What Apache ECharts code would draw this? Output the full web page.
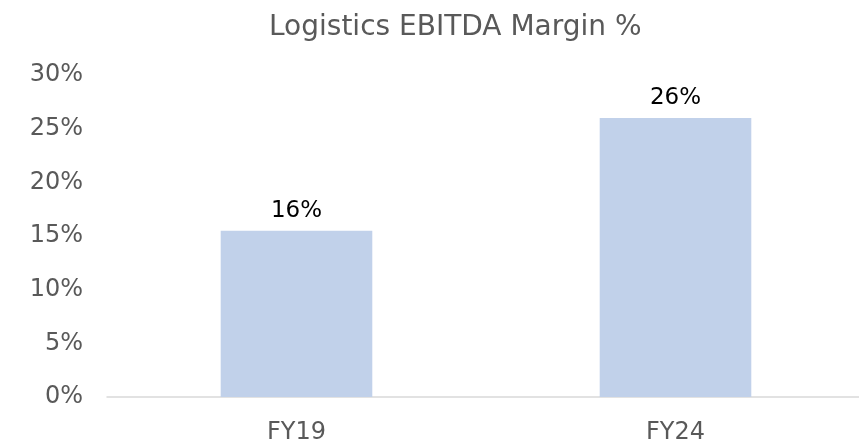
<!DOCTYPE html>
<html>
<head>
<meta charset="utf-8">
<script src="https://cdn.jsdelivr.net/npm/echarts@6/dist/echarts.min.js"></script>
<style>html,body{margin:0;padding:0;background:#fff;overflow:hidden}#c{width:865px;height:445px}</style>
</head>
<body>
<div id="c"></div>
<script>
const categories = ['FY19', 'FY24'];
const margins = [15.5, 26.0];
const labels = ['16%', '26%'];
const yTicks = [0, 5, 10, 15, 20, 25, 30];

const FONT = 'DejaVu Sans';
const chart = echarts.init(document.getElementById('c'));
chart.setOption({
  animation: false,
  title: {
    text: 'Logistics EBITDA Margin %',
    left: 264,
    top: 9,
    textStyle: { fontFamily: FONT, fontSize: 28, fontWeight: 'normal', color: '#595959' }
  },
  grid: { left: 107, right: 0, top: 75, bottom: 47 },
  xAxis: {
    type: 'category',
    data: categories,
    axisLine: { lineStyle: { color: '#D9D9D9', width: 1.5 } },
    axisTick: { show: false },
    axisLabel: { fontFamily: FONT, fontSize: 24, color: '#595959', margin: 24 }
  },
  yAxis: {
    type: 'value',
    min: yTicks[0],
    max: yTicks[yTicks.length - 1],
    interval: 5,
    splitLine: { show: false },
    axisLine: { show: false },
    axisTick: { show: false },
    axisLabel: { fontFamily: FONT, fontSize: 24, color: '#595959', margin: 24, formatter: v => v + '%' }
  },
  series: [{
    type: 'bar',
    data: margins,
    barWidth: '40%',
    itemStyle: { color: '#C1D1EA' },
    label: {
      show: true,
      position: 'top',
      distance: 8,
      fontFamily: FONT,
      fontSize: 23,
      color: '#000000',
      formatter: p => labels[p.dataIndex]
    }
  }]
});
</script>
</body>
</html>
